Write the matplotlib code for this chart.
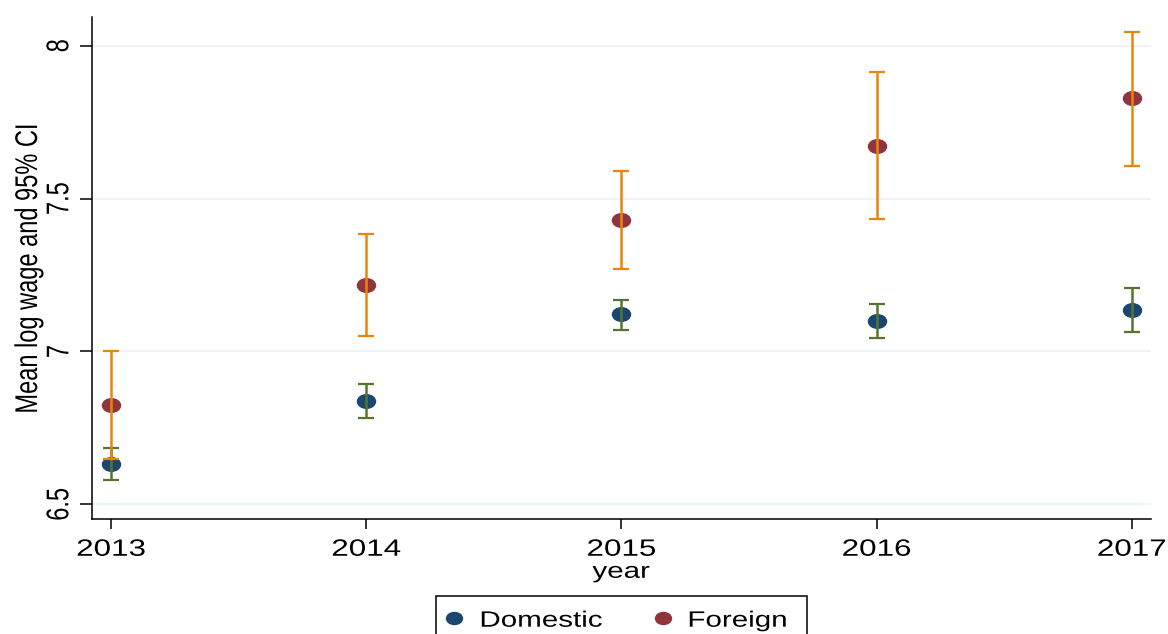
import numpy as np
import matplotlib
matplotlib.use("Agg")
import matplotlib.pyplot as plt
from matplotlib.patheffects import AbstractPathEffect
from matplotlib.transforms import Affine2D
from matplotlib.path import Path
from matplotlib.lines import Line2D
from matplotlib.patches import Rectangle

# ---- data: mean log wage with 95% confidence bounds ----
years = [2013, 2014, 2015, 2016, 2017]
dom_mean = [6.631, 6.839, 7.121, 7.099, 7.136]
dom_lo = [6.578, 6.782, 7.071, 7.043, 7.065]
dom_hi = [6.683, 6.894, 7.168, 7.156, 7.207]
for_mean = [6.824, 7.216, 7.430, 7.673, 7.828]
for_lo = [6.648, 7.050, 7.269, 7.434, 7.607]
for_hi = [7.000, 7.384, 7.590, 7.914, 8.046]
yticks = [6.5, 7, 7.5, 8]
ytick_labels = ["6.5", "7", "7.5", "8"]
legend_labels = ["Domestic", "Foreign"]

NAVY = "#1a476f"
CRANBERRY = "#90353b"
GREEN = "#55752f"
ORANGE = "#e8850e"
GRID = "#eaf2f3"

W, H = 1168, 634
SX = 1.33  # horizontal widening applied to glyphs and markers

plt.rcParams["font.family"] = ["Liberation Sans", "DejaVu Sans"]


class Widen(AbstractPathEffect):
    """Stretch rendered text horizontally around an anchor edge."""

    def __init__(self, sx=SX, anchor="center"):
        super().__init__()
        self.sx = sx
        self.anchor = anchor

    def draw_path(self, renderer, gc, tpath, affine, rgbFace=None):
        ext = tpath.get_extents(affine)
        if self.anchor == "left":
            a = ext.x0
        elif self.anchor == "right":
            a = ext.x1
        else:
            a = 0.5 * (ext.x0 + ext.x1)
        t = affine + Affine2D().translate(-a, 0).scale(self.sx, 1).translate(a, 0)
        renderer.draw_path(gc, tpath, t, rgbFace)


def fx(px):
    return px / W


def fy(py):
    return 1 - py / H


ellipse = Path.unit_circle().transformed(Affine2D().scale(SX, 1))

fig = plt.figure(figsize=(W / 100, H / 100), dpi=100)
left, right, top, bottom = 91.7, 1150.7, 17.0, 519.3
ax = fig.add_axes([fx(left), fy(bottom), fx(right - left), (bottom - top) / H])

ax.set_xlim(2012.924, 2017.074)
ax.set_ylim(6.451, 8.094)

# markers first, confidence bars drawn over them
ax.plot(years, dom_mean, ls="none", marker=ellipse, ms=13, mfc=NAVY, mec=NAVY, zorder=3)
ax.plot(years, for_mean, ls="none", marker=ellipse, ms=13, mfc=CRANBERRY, mec=CRANBERRY, zorder=3)

dom_err = [np.subtract(dom_mean, dom_lo), np.subtract(dom_hi, dom_mean)]
for_err = [np.subtract(for_mean, for_lo), np.subtract(for_hi, for_mean)]
ax.errorbar(years, dom_mean, yerr=dom_err, fmt="none", ecolor=GREEN,
            elinewidth=1.8, capsize=5.8, capthick=1.6, zorder=4)
ax.errorbar(years, for_mean, yerr=for_err, fmt="none", ecolor=ORANGE,
            elinewidth=1.8, capsize=5.8, capthick=1.6, zorder=5)

# axes styling
ax.set_yticks(yticks, ytick_labels)
ax.set_xticks(years, [str(y) for y in years])
ax.yaxis.grid(True, color=GRID, lw=1.2)
ax.set_axisbelow(True)
for s in ("top", "right"):
    ax.spines[s].set_visible(False)
for s in ("left", "bottom"):
    ax.spines[s].set_linewidth(1.1)
    ax.spines[s].set_color("black")

ax.tick_params(axis="x", direction="out", length=7, width=1.1, pad=7, labelsize=17)
ax.tick_params(axis="y", direction="out", length=8.4, width=1.1, pad=4.8,
               labelsize=17, labelrotation=90)
for lab in ax.get_yticklabels():
    lab.set_va("center")
    lab.set_path_effects([Widen(anchor="right")])
for lab in ax.get_xticklabels():
    lab.set_path_effects([Widen(anchor="center")])

ax.set_ylabel("Mean log wage and 95% CI", fontsize=17, va="center", ha="center",
              path_effects=[Widen(anchor="center")])
ax.yaxis.set_label_coords((29 - left) / (right - left), 0.5)
ax.set_xlabel("year", fontsize=16, va="top", path_effects=[Widen(anchor="center")])
ax.xaxis.set_label_coords(0.5, (bottom - 561.8) / (bottom - top))

# legend box below the plot
fig.add_artist(Rectangle((fx(435.7), fy(642)), fx(807 - 435.7), (642 - 596) / H,
                         transform=fig.transFigure, facecolor="white",
                         edgecolor="black", lw=1.1))
for mx, tx, lab, col in [(454, 480, legend_labels[0], NAVY),
                         (663, 688, legend_labels[1], CRANBERRY)]:
    fig.add_artist(Line2D([fx(mx)], [fy(618)], transform=fig.transFigure,
                          ls="none", marker=ellipse, ms=11.5, mfc=col, mec=col))
    fig.text(fx(tx), fy(626.7), lab, fontsize=16, ha="left", va="baseline",
             path_effects=[Widen(anchor="left")])

fig.savefig("out.png", dpi=100)
